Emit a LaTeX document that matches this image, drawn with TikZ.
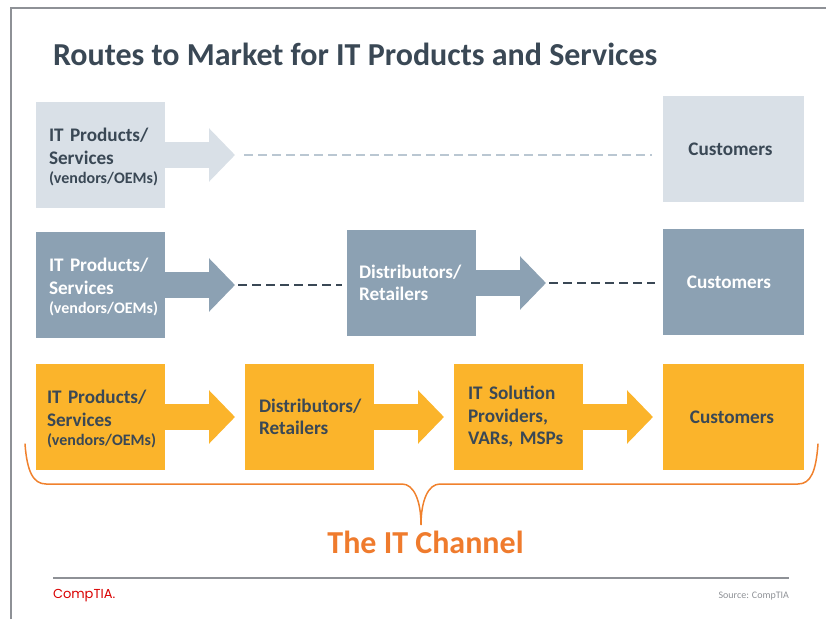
\documentclass[tikz,border=0pt]{standalone}
\usepackage{fontspec}
\setmainfont{Carlito}
\newfontfamily\logofont{Poppins}
\usetikzlibrary{arrows.meta,positioning}
\definecolor{paleblue}{HTML}{D9E0E7}
\definecolor{slateblue}{HTML}{8CA1B3}
\definecolor{amber}{HTML}{FBB42B}
\definecolor{inkdark}{HTML}{3A4855}
\definecolor{rust}{HTML}{EF7B2D}
\definecolor{framegray}{HTML}{8E9196}
\newcommand{\prodtext}{\rule{0pt}{17.5pt}IT Products/\\Services\\[-3pt]{\fontsize{16}{18}\selectfont (vendors/OEMs)}}
\begin{document}
\begin{tikzpicture}[
  x=1pt,y=1pt,
  every node/.style={outer sep=0pt,font=\fontsize{19.2}{22.5}\selectfont\bfseries,text=inkdark},
  box/.style={rectangle,minimum height=106pt,text width=129pt-2*#1,inner xsep=#1,align=left},
  box/.default=13pt,
  custbox/.style={rectangle,minimum height=106pt,text width=125pt,inner xsep=8pt,align=center},
  fat/.style={-{Triangle[length=26pt,width=52pt]},line width=26pt},
  link/.style={dashed,dash pattern=on 9pt off 5pt,line width=1.6pt},
  ]
  \useasboundingbox (0,0) rectangle (826,619);
  \draw[framegray,line width=2pt] (11,0) |- (826,610.5);
  \node[anchor=west,inner sep=0pt,font=\fontsize{32}{38}\selectfont\bfseries] (title) at (53,565) {Routes to Market for IT Products and Services};

  % top row
  \node[box,fill=paleblue] (P1) at (100.5,464) {\prodtext};
  \node[custbox,fill=paleblue,right=498pt of P1,yshift=6pt] (C1) {\hspace*{-6pt}Customers};
  \coordinate[right=70pt of P1.east] (T1);
  \draw[fat,paleblue] (P1.east) -- (T1);
  \draw[link,paleblue!60!slateblue,shorten <=9pt,shorten >=11pt] (T1) -- (T1 -| C1.west);

  % middle row
  \node[box,fill=slateblue,below=24pt of P1] (P2) {\color{white}\prodtext};
  \node[box=12pt,fill=slateblue,right=182pt of P2,yshift=2pt] (D2) {\color{white}Distributors/\\Retailers};
  \node[custbox,fill=slateblue,right=498pt of P2,yshift=3pt] (C2) {\color{white}\hspace*{-9pt}Customers};
  \coordinate[right=70pt of P2.east] (T2);
  \coordinate[right=70pt of D2.east] (T3);
  \draw[fat,slateblue] (P2.east) -- (T2);
  \draw[fat,slateblue] (D2.east) -- (T3);
  \draw[link,inkdark,shorten <=3pt,shorten >=5pt] (T2) -- (T2 -| D2.west);
  \draw[link,inkdark,shorten <=3pt,shorten >=8pt] (T3) -- (T3 -| C2.west);

  % bottom row
  \node[box=11pt,fill=amber,below=26pt of P2] (P3) {\prodtext};
  \node[box=14pt,fill=amber,right=80pt of P3] (D3) {Distributors/\\Retailers};
  \node[box=14pt,fill=amber,right=80pt of D3] (S3) {IT Solution\\Providers,\\VARs, MSPs};
  \node[custbox,fill=amber,right=80pt of S3] (C3) {\hspace*{-3pt}Customers};
  \draw[fat,amber,shorten >=10pt] (P3) -- (D3);
  \draw[fat,amber,shorten >=10pt] (D3) -- (S3);
  \draw[fat,amber,shorten >=10pt] (S3) -- (C3);

  % brace and footer
  \node[font=\fontsize{32}{38}\selectfont\bfseries,text=rust] (channel) at (425.5,77) {The IT Channel};
  \coordinate (tipB) at (421,94);
  \draw[rust!90!amber,line width=1.5pt,line cap=round] (25,175) .. controls (27,148) and (33,135) .. (46,135)
    -- (402,135) .. controls (414,135) and (421,118) .. (tipB)
    .. controls (421,118) and (428,135) .. (440,135)
    -- (798,135) .. controls (811,135) and (816,148) .. (818,175);
  \coordinate (ruleL) at (53,41);
  \coordinate (ruleR) at (789,41);
  \draw[framegray,line width=1.5pt] (ruleL) -- (ruleR);
  \node[anchor=west,inner sep=0pt,font=\fontsize{13}{16}\selectfont\logofont,text=red!85!black] (logo) at (53,23) {CompTIA.};
  \node[anchor=east,inner sep=0pt,font=\fontsize{10}{12}\selectfont,text=framegray] (source) at (789,23) {Source: CompTIA};
\end{tikzpicture}
\end{document}
